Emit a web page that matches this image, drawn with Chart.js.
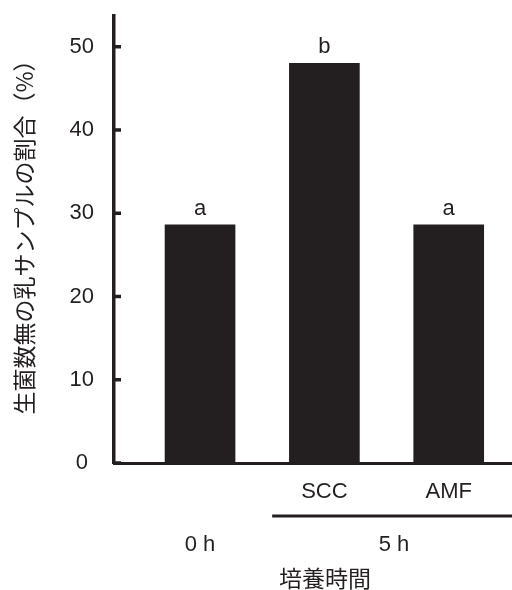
<!DOCTYPE html>
<html><head><meta charset="utf-8">
<script src="https://cdn.jsdelivr.net/npm/chart.js@4/dist/chart.umd.min.js"></script>
<style>
html,body{margin:0;padding:0;background:#fff;overflow:hidden;width:512px;height:590px;}
#wrap{width:536px;height:590px;}
</style></head><body>
<div id="wrap"><canvas id="c" width="536" height="590"></canvas></div>
<script>
// ---- data ----
const treatmentLabels = ['', 'SCC', 'AMF'];
const timeLabels = ['0 h', '5 h'];
const values = [28.6, 48.0, 28.6];
const sigLetters = ['a', 'b', 'a'];
const yTickValues = [0, 10, 20, 30, 40, 50];
const yAxisTitle = '生菌数無の乳サンプルの割合（%）';
const xAxisTitle = '培養時間';

// ---- style ----
const INK = '#231f20';
const LATIN = "'Liberation Sans', Arial, sans-serif";
const CJK = "'Noto Sans CJK JP', sans-serif";

const barPositions = values.map((v, i) => i + 1);
const points = values.map((v, i) => ({ x: barPositions[i], y: v }));

const noPad = s => { s.paddingTop = 0; s.paddingBottom = 0; s.paddingLeft = 0; s.paddingRight = 0; };

const overlay = {
  id: 'overlay',
  afterDraw(chart) {
    const ctx = chart.ctx;
    const ys = chart.scales.y, xs = chart.scales.x;
    const area = chart.chartArea;
    ctx.save();
    ctx.strokeStyle = INK;
    ctx.lineWidth = 3.5;
    yTickValues.forEach(v => {
      const py = ys.getPixelForValue(v);
      ctx.beginPath(); ctx.moveTo(area.left, py); ctx.lineTo(area.left + 7, py); ctx.stroke();
    });
    ctx.fillStyle = INK;
    ctx.font = '22px ' + LATIN;
    ctx.textAlign = 'center';
    ctx.textBaseline = 'alphabetic';
    chart.getDatasetMeta(0).data.forEach((bar, i) => {
      ctx.fillText(sigLetters[i], bar.x, bar.y - 10);
    });
    ctx.lineWidth = 3;
    const bx = xs.getPixelForValue(2 - 0.42);
    ctx.beginPath(); ctx.moveTo(bx, xs.bottom); ctx.lineTo(area.right + 2, xs.bottom); ctx.stroke();
    // y axis title (rotated)
    ctx.translate(ys.left + 24.5, (area.top + area.bottom) / 2 - 8);
    ctx.rotate(-Math.PI / 2);
    ctx.font = '23px ' + CJK;
    ctx.textAlign = 'center';
    ctx.textBaseline = 'middle';
    ctx.fillText(yAxisTitle, 0, 0);
    ctx.restore();
  }
};

new Chart(document.getElementById('c'), {
  type: 'bar',
  data: { datasets: [{ data: points, backgroundColor: INK, borderWidth: 0, barThickness: 70 }] },
  options: {
    responsive: false,
    animation: false,
    layout: { padding: { top: 16, left: 0, right: 0, bottom: 0 } },
    plugins: { legend: { display: false }, tooltip: { enabled: false } },
    scales: {
      x: {
        type: 'linear', position: 'bottom', min: 0.308, max: 3.702, weight: 0, offset: false,
        afterBuildTicks: s => { s.ticks = barPositions.map(v => ({ value: v })); },
        afterFit: s => { s.height = 53; noPad(s); },
        ticks: { autoSkip: false, maxRotation: 0, padding: 16, color: INK,
                 font: { family: LATIN, size: 22 },
                 callback: (v, i) => treatmentLabels[i] },
        grid: { display: true, offset: false, drawOnChartArea: false, drawTicks: false },
        border: { display: true, color: INK, width: 3 }
      },
      x2: {
        type: 'linear', position: 'bottom', min: 0.308, max: 3.702, weight: 1, offset: false,
        afterBuildTicks: s => { s.ticks = [{ value: 1 }, { value: 2.56 }]; },
        afterFit: s => { s.height = 74; noPad(s); },
        ticks: { autoSkip: false, maxRotation: 0, padding: 16, color: INK,
                 font: { family: LATIN, size: 22 },
                 callback: (v, i) => timeLabels[i] },
        grid: { display: true, offset: false, drawOnChartArea: false, drawTicks: false },
        border: { display: false },
        title: { display: true, text: xAxisTitle, color: INK,
                 font: { family: CJK, size: 23, lineHeight: 1 }, padding: { top: 0, bottom: 0 } }
      },
      y: {
        type: 'linear', position: 'left', min: 0, max: 53.69,
        afterBuildTicks: s => { s.ticks = yTickValues.map(v => ({ value: v })); },
        afterFit: s => { s.width = 114; noPad(s); },
        ticks: { padding: 20, crossAlign: 'center', color: INK, font: { family: LATIN, size: 22 } },
        grid: { display: true, drawOnChartArea: false, drawTicks: false },
        border: { display: true, color: INK, width: 3.5 },
        title: { display: false, text: yAxisTitle }
      }
    }
  },
  plugins: [overlay]
});
</script>
</body></html>
